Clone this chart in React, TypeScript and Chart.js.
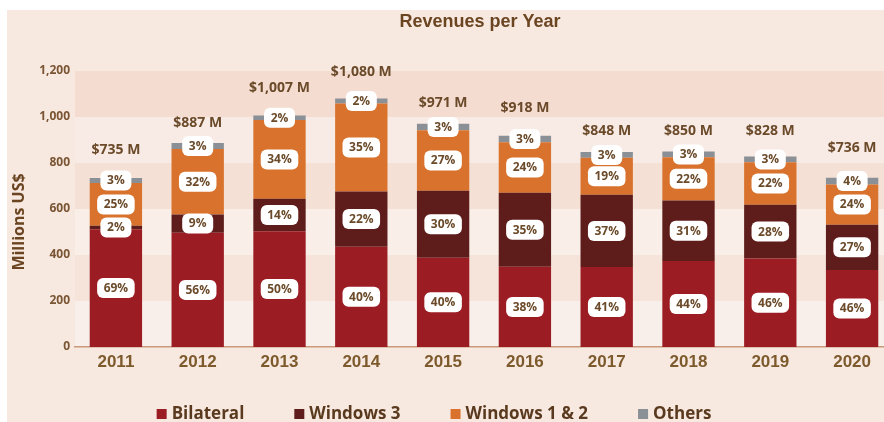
import { useEffect, useRef } from "react";
import { Chart, registerables } from "chart.js";

Chart.register(...registerables);

// ---------- data ----------
const years = ["2011", "2012", "2013", "2014", "2015", "2016", "2017", "2018", "2019", "2020"];
const totals = [735, 887, 1007, 1080, 971, 918, 848, 850, 828, 736];
const bilateralPct = [69, 56, 50, 40, 40, 38, 41, 44, 46, 46];
const windows3Pct = [2, 9, 14, 22, 30, 35, 37, 31, 28, 27];
const windows12Pct = [25, 32, 34, 35, 27, 24, 19, 22, 22, 24];
const othersPct = [3, 3, 2, 2, 3, 3, 3, 3, 3, 4];
const seriesNames = ["Bilateral", "Windows 3", "Windows 1 & 2", "Others"];
const yTicks = [0, 200, 400, 600, 800, 1000, 1200];

// ---------- styles ----------
const seriesColors = ["#9c1c24", "#5e1d1b", "#d8722c", "#8a9095"];
const PAGE_BG = "#f7e8e0";
const bandColors = ["#f9efea", "#f6e4db", "#f9eee8", "#f5e0d5", "#f8ebe5", "#f4ddd0"];
const totalLabelLift = [28, 20, 27, 27, 21, 28, 21, 20, 26, 30];
const TEXT_BROWN = "#6b4a2a";

const pctSeries = [bilateralPct, windows3Pct, windows12Pct, othersPct];

function segmentValues(pcts: number[]): number[] {
  return pcts.map((p, i) => {
    const sum = bilateralPct[i] + windows3Pct[i] + windows12Pct[i] + othersPct[i];
    return (totals[i] * p) / sum;
  });
}

const backgroundPlugin = {
  id: "bgBands",
  beforeDraw(chart: any) {
    const { ctx, chartArea, scales } = chart;
    const y = scales.y;
    ctx.save();
    ctx.fillStyle = "#ffffff";
    ctx.fillRect(0, 0, chart.width, chart.height);
    ctx.fillStyle = PAGE_BG;
    ctx.fillRect(7, 10, chart.width, chart.height);
    for (let k = 0; k < yTicks.length - 1; k++) {
      const top = y.getPixelForValue(yTicks[k + 1]);
      const bot = y.getPixelForValue(yTicks[k]);
      ctx.fillStyle = bandColors[k];
      ctx.fillRect(chartArea.left, top, chartArea.right - chartArea.left, bot - top);
    }
    // title
    ctx.fillStyle = "#6b4521";
    ctx.font = "bold 18px 'Liberation Sans', Arial, sans-serif";
    ctx.textAlign = "center";
    ctx.textBaseline = "middle";
    ctx.fillText("Revenues per Year", (chartArea.left + chartArea.right) / 2 - 4, 22);
    // y axis title
    ctx.translate(19, (chartArea.top + chartArea.bottom) / 2 + 13);
    ctx.rotate(-Math.PI / 2);
    ctx.font = "bold 16px 'Open Sans', sans-serif";
    ctx.fillStyle = "#6b4521";
    ctx.fillText("Millions US$", 0, 0);
    ctx.restore();
  },
};

const labelsPlugin = {
  id: "barLabels",
  afterDatasetsDraw(chart: any) {
    const { ctx, scales } = chart;
    ctx.save();
    ctx.textAlign = "center";
    ctx.textBaseline = "middle";
    chart.data.datasets.forEach((_ds: any, di: number) => {
      const meta = chart.getDatasetMeta(di);
      meta.data.forEach((bar: any, i: number) => {
        const { x, y, base } = bar.getProps(["x", "y", "base"], true);
        const cy = (y + base) / 2;
        const text = pctSeries[di][i] + "%";
        ctx.font = "bold 12px 'Open Sans', sans-serif";
        const tw = ctx.measureText(text).width;
        const w = Math.max(31, tw + 13);
        const h = 20;
        ctx.fillStyle = "#ffffff";
        ctx.beginPath();
        ctx.roundRect(x - w / 2, cy - h / 2, w, h, 6);
        ctx.fill();
        ctx.fillStyle = TEXT_BROWN;
        ctx.fillText(text, x, cy + 0.5);
      });
    });
    // totals
    const y = scales.y;
    const x = scales.x;
    ctx.font = "bold 14px 'Open Sans', sans-serif";
    ctx.fillStyle = TEXT_BROWN;
    totals.forEach((t, i) => {
      const px = x.getPixelForValue(i);
      const py = y.getPixelForValue(t) - totalLabelLift[i];
      ctx.fillText("$" + t.toLocaleString("en-US") + " M", px, py);
    });
    ctx.restore();
  },
  afterDraw(chart: any) {
    const { ctx } = chart;
    ctx.save();
    ctx.font = "bold 17px 'Open Sans', sans-serif";
    ctx.textBaseline = "middle";
    ctx.textAlign = "left";
    const box = 10;
    const boxGap = 5;
    const itemGap = 50;
    const widths = seriesNames.map((n) => box + boxGap + ctx.measureText(n).width);
    const total = widths.reduce((a, b) => a + b, 0) + itemGap * (widths.length - 1);
    let cx = chart.chartArea.left + 359 - total / 2;
    const cy = 414;
    seriesNames.forEach((n, k) => {
      ctx.fillStyle = seriesColors[k];
      ctx.fillRect(cx, cy - box / 2, box, box);
      ctx.fillStyle = "#5a3a1e";
      ctx.fillText(n, cx + box + boxGap, cy);
      cx += widths[k] + itemGap;
    });
    ctx.restore();
  },
};

export default function App() {
  const ref = useRef<HTMLCanvasElement>(null);
  useEffect(() => {
    if (!ref.current) return;
    const chart = new Chart(ref.current, {
      type: "bar",
      data: {
        labels: years,
        datasets: pctSeries.map((p, k) => ({
          label: seriesNames[k],
          data: segmentValues(p),
          backgroundColor: seriesColors[k],
          borderWidth: 0,
          barPercentage: 0.64,
          categoryPercentage: 1.0,
        })),
      },
      options: {
        responsive: false,
        animation: false,
        devicePixelRatio: 1,
        layout: { padding: { left: 0, right: 7, top: 71, bottom: 35 } },
        plugins: {
          legend: { display: false },
          tooltip: { enabled: false },
          title: { display: false },
        },
        scales: {
          x: {
            stacked: true,
            grid: { display: false, drawTicks: false },
            border: { display: true, color: "#c9997a", width: 1.5 },
            ticks: {
              color: "#7d5a2c",
              font: { family: "'Liberation Sans', Arial, sans-serif", size: 17, weight: "bold" },
              padding: 5,
            },
            afterFit: (s: any) => {
              s.height = 40;
            },
          },
          y: {
            stacked: true,
            min: yTicks[0],
            max: yTicks[yTicks.length - 1],
            grid: { display: false, drawTicks: false },
            border: { display: false },
            ticks: {
              stepSize: 200,
              color: "#7a5533",
              font: { family: "'Open Sans', sans-serif", size: 12, weight: "bold" },
              padding: 5,
              callback: (v: any) => Number(v).toLocaleString("en-US"),
            },
            afterFit: (s: any) => {
              s.width = 75;
            },
          },
        },
      },
      plugins: [backgroundPlugin, labelsPlugin],
    } as any);
    return () => chart.destroy();
  }, []);
  return (
    <div
      style={{
        position: "fixed",
        left: 0,
        top: 0,
        width: 884,
        height: 422,
        overflow: "hidden",
        background: "#ffffff",
      }}
    >
      <canvas ref={ref} width={900} height={422} style={{ display: "block", width: 900, height: 422 }} />
    </div>
  );
}
